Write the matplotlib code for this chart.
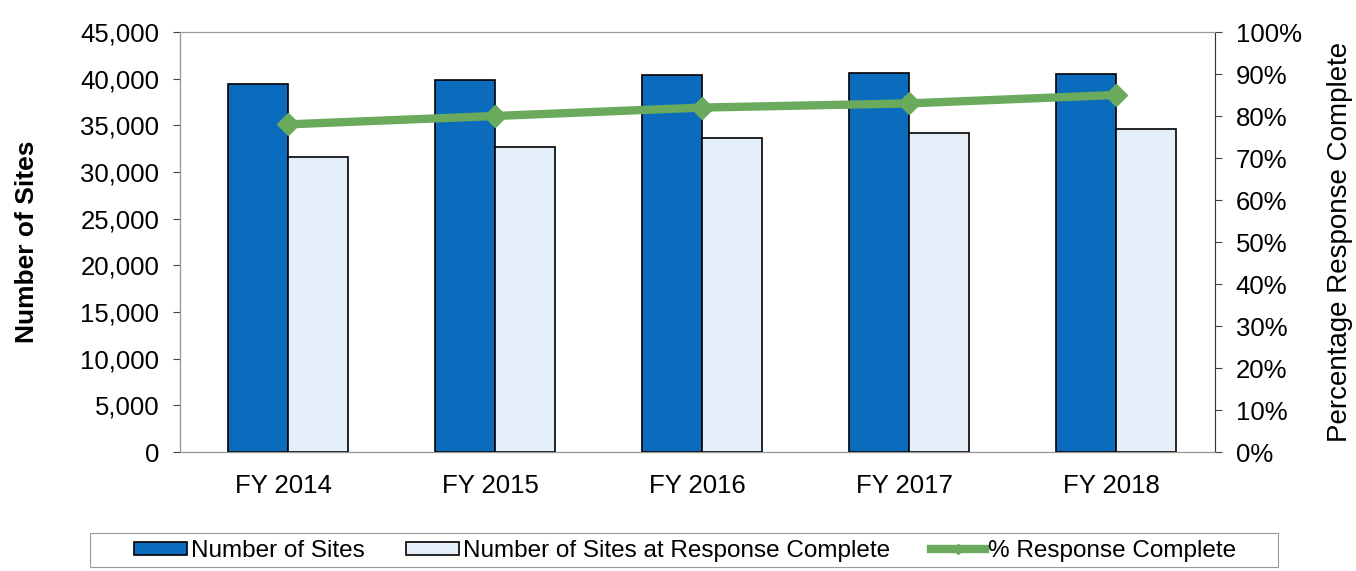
import matplotlib.pyplot as plt
import numpy as np
from matplotlib.patches import Rectangle
from matplotlib.ticker import FuncFormatter, MultipleLocator

plt.rcParams["font.family"] = ["Liberation Sans", "DejaVu Sans"]

years = ["FY 2014", "FY 2015", "FY 2016", "FY 2017", "FY 2018"]
sites = [39400, 39900, 40400, 40600, 40500]
sites_complete = [31600, 32700, 33600, 34200, 34600]
pct_complete = [78, 80, 82, 83, 85]

blue = "#0b6bbd"
light = "#e4effa"
green = "#6aaa5c"

fig = plt.figure(figsize=(13.56, 5.71), dpi=100)
ax = fig.add_axes([180 / 1356, 1 - 452 / 571, 1035 / 1356, 420 / 571])
ax2 = ax.twinx()

x = np.arange(len(years))
w = 0.29
off = 0.02
ax.bar(x - w / 2 + off, sites, w, color=blue, edgecolor="black", lw=1.2,
       label="Number of Sites", zorder=2)
ax.bar(x + w / 2 + off, sites_complete, w, color=light, edgecolor="black", lw=1.2,
       label="Number of Sites at Response Complete", zorder=2)

ax2.plot(x + off, pct_complete, color=green, lw=6, marker="D", ms=11,
         label="% Response Complete", zorder=3)

ax.set_xlim(-0.5, len(years) - 0.5)
ax.set_ylim(0, 45000)
ax.yaxis.set_major_locator(MultipleLocator(5000))
ax.yaxis.set_major_formatter(FuncFormatter(lambda v, p: f"{int(v):,}"))
ax2.set_ylim(0, 100)
ax2.yaxis.set_major_locator(MultipleLocator(10))
ax2.yaxis.set_major_formatter(FuncFormatter(lambda v, p: f"{int(v)}%"))

ax.set_xticks(x)
ax.set_xticklabels(years)
for a in (ax, ax2):
    a.tick_params(labelsize=18.5, length=5, color="#444444", pad=10)
    for s in a.spines.values():
        s.set_color("#999999")
        s.set_linewidth(0.8)
ax.spines["left"].set_color("#333333")
ax.spines["bottom"].set_color("#333333")
ax2.spines["right"].set_color("#333333")
ax.tick_params(axis="x", length=0, pad=16)

ax.set_ylabel("Number of Sites", fontsize=19, fontweight="bold", labelpad=30)
ax2.set_ylabel("Percentage Response Complete", fontsize=20, labelpad=18)

# legend, with its own wider frame like the original
h1, l1 = ax.get_legend_handles_labels()
h2, l2 = ax2.get_legend_handles_labels()
leg = fig.legend(h1 + h2, l1 + l2, loc="center", ncol=3,
                 bbox_to_anchor=(685 / 1356, 1 - 551 / 571), fontsize=17.5,
                 frameon=False, handlelength=2.2, handleheight=0.45,
                 handletextpad=0.15, columnspacing=1.7, markerscale=0.5)
fig.patches.append(Rectangle((90 / 1356, 1 - 567 / 571), 1188 / 1356, 34 / 571,
                             transform=fig.transFigure, fill=False,
                             edgecolor="#999999", lw=0.8))

plt.savefig("out.png", dpi=100)
